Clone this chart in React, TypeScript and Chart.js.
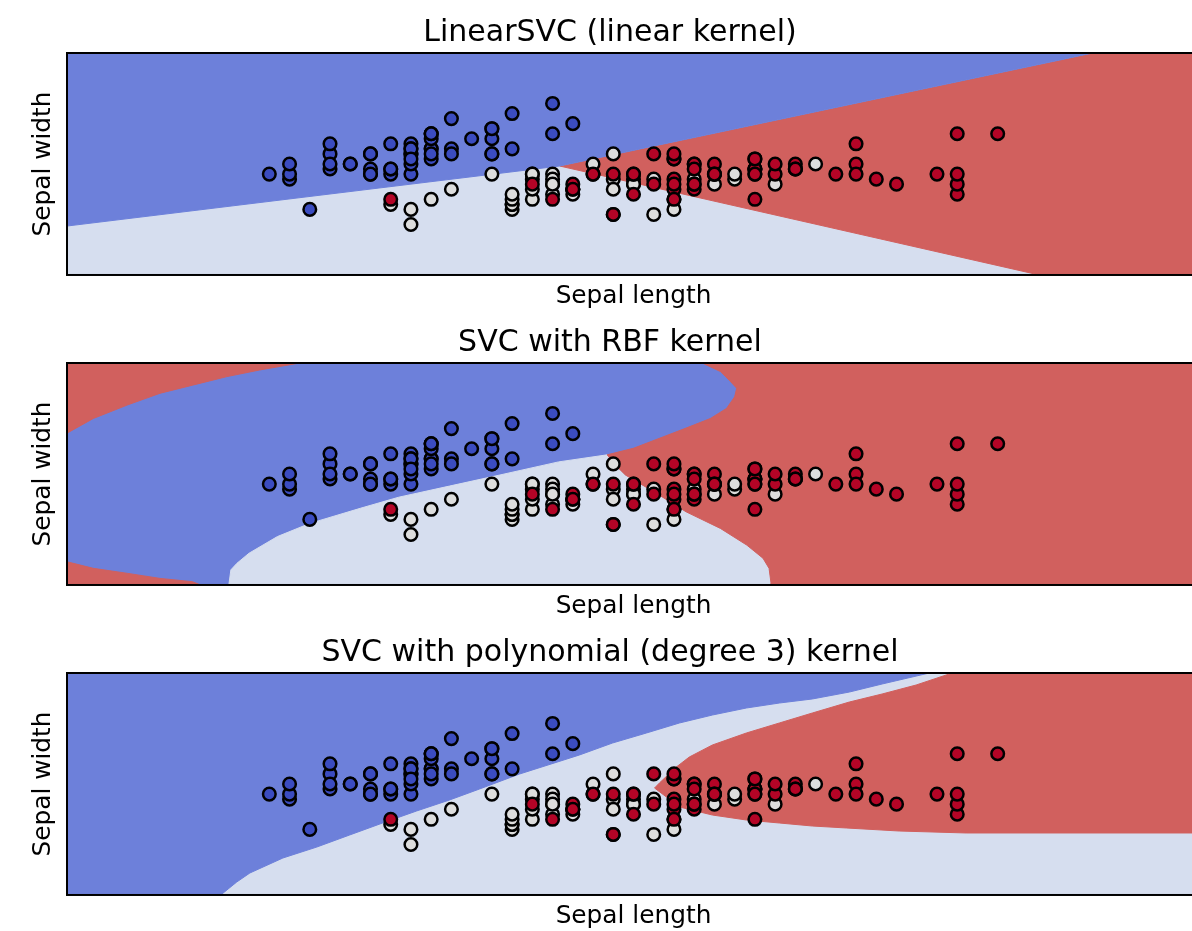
import React, { useEffect, useRef } from "react";
import { Chart, registerables } from "chart.js";

Chart.register(...registerables);

type Pt = [number, number];

const FONT = '"DejaVu Sans", "Liberation Sans", sans-serif';

const panelTitles = [
  "LinearSVC (linear kernel)",
  "SVC with RBF kernel",
  "SVC with polynomial (degree 3) kernel",
];
const xAxisLabel = "Sepal length";
const yAxisLabel = "Sepal width";
const xLimits = [3.3, 8.9];
const yLimits = [1.0, 5.4];

// Iris data: sepal length / sepal width per class
const setosaLength = [5.1, 4.9, 4.7, 4.6, 5.0, 5.4, 4.6, 5.0, 4.4, 4.9, 5.4, 4.8, 4.8, 4.3, 5.8, 5.7, 5.4, 5.1, 5.7, 5.1, 5.4, 5.1, 4.6, 5.1, 4.8, 5.0, 5.0, 5.2, 5.2, 4.7, 4.8, 5.4, 5.2, 5.5, 4.9, 5.0, 5.5, 4.9, 4.4, 5.1, 5.0, 4.5, 4.4, 5.0, 5.1, 4.8, 5.1, 4.6, 5.3, 5.0];
const setosaWidth = [3.5, 3.0, 3.2, 3.1, 3.6, 3.9, 3.4, 3.4, 2.9, 3.1, 3.7, 3.4, 3.0, 3.0, 4.0, 4.4, 3.9, 3.5, 3.8, 3.8, 3.4, 3.7, 3.6, 3.3, 3.4, 3.0, 3.4, 3.5, 3.4, 3.2, 3.1, 3.4, 4.1, 4.2, 3.1, 3.2, 3.5, 3.6, 3.0, 3.4, 3.5, 2.3, 3.2, 3.5, 3.8, 3.0, 3.8, 3.2, 3.7, 3.3];
const versicolorLength = [7.0, 6.4, 6.9, 5.5, 6.5, 5.7, 6.3, 4.9, 6.6, 5.2, 5.0, 5.9, 6.0, 6.1, 5.6, 6.7, 5.6, 5.8, 6.2, 5.6, 5.9, 6.1, 6.3, 6.1, 6.4, 6.6, 6.8, 6.7, 6.0, 5.7, 5.5, 5.5, 5.8, 6.0, 5.4, 6.0, 6.7, 6.3, 5.6, 5.5, 5.5, 6.1, 5.8, 5.0, 5.6, 5.7, 5.7, 6.2, 5.1, 5.7];
const versicolorWidth = [3.2, 3.2, 3.1, 2.3, 2.8, 2.8, 3.3, 2.4, 2.9, 2.7, 2.0, 3.0, 2.2, 2.9, 2.9, 3.1, 3.0, 2.7, 2.2, 2.5, 3.2, 2.8, 2.5, 2.8, 2.9, 3.0, 2.8, 3.0, 2.9, 2.6, 2.4, 2.4, 2.7, 2.7, 3.0, 3.4, 3.1, 2.3, 3.0, 2.5, 2.6, 3.0, 2.6, 2.3, 2.7, 3.0, 2.9, 2.9, 2.5, 2.8];
const virginicaLength = [6.3, 5.8, 7.1, 6.3, 6.5, 7.6, 4.9, 7.3, 6.7, 7.2, 6.5, 6.4, 6.8, 5.7, 5.8, 6.4, 6.5, 7.7, 7.7, 6.0, 6.9, 5.6, 7.7, 6.3, 6.7, 7.2, 6.2, 6.1, 6.4, 7.2, 7.4, 7.9, 6.4, 6.3, 6.1, 7.7, 6.3, 6.4, 6.0, 6.9, 6.7, 6.9, 5.8, 6.8, 6.7, 6.7, 6.3, 6.5, 6.2, 5.9];
const virginicaWidth = [3.3, 2.7, 3.0, 2.9, 3.0, 3.0, 2.5, 2.9, 2.5, 3.6, 3.2, 2.7, 3.0, 2.5, 2.8, 3.2, 3.0, 3.8, 2.6, 2.2, 3.2, 2.8, 2.8, 2.7, 3.3, 3.2, 2.8, 3.0, 2.8, 3.0, 2.8, 3.8, 2.8, 2.8, 2.6, 3.0, 3.4, 3.1, 3.0, 3.1, 3.1, 3.1, 2.7, 3.2, 3.3, 3.0, 2.5, 3.0, 3.4, 3.0];

// Decision-region outlines (sepal length, sepal width)
// LinearSVC
const linearBlueRegion: Pt[] = [[3.3, 5.4], [8.37, 5.4], [5.735, 3.16], [3.3, 1.97]];
const linearRedRegion: Pt[] = [[8.37, 5.4], [8.9, 5.4], [8.9, 1.0], [8.105, 1.0], [5.735, 3.16]];

// RBF kernel
const rbfTopLeftEdge: Pt[] = [[4.45, 5.4], [4.25, 5.26], [4.09, 5.13], [3.92, 4.96], [3.76, 4.8], [3.6, 4.57], [3.43, 4.3], [3.3, 4.01]];
const rbfBlueRedEdge: Pt[] = [[6.44, 5.4], [6.53, 5.23], [6.58, 5.03], [6.61, 4.9], [6.6, 4.73], [6.56, 4.5], [6.48, 4.3], [6.36, 4.11], [6.23, 3.91], [6.1, 3.71], [5.97, 3.58]];
const rbfLightRedEdge: Pt[] = [[5.97, 3.58], [6.01, 3.38], [6.06, 3.18], [6.2, 2.85], [6.36, 2.45], [6.53, 2.12], [6.66, 1.79], [6.74, 1.53], [6.77, 1.33], [6.78, 1.03], [6.78, 1.0]];
const rbfBlueLightEdge: Pt[] = [[4.1, 1.0], [4.11, 1.3], [4.14, 1.43], [4.2, 1.63], [4.34, 1.96], [4.5, 2.22], [4.75, 2.52], [4.94, 2.74], [5.19, 2.96], [5.44, 3.18], [5.73, 3.44], [5.97, 3.58]];
const rbfBottomLeftEdge: Pt[] = [[3.3, 1.46], [3.43, 1.33], [3.6, 1.23], [3.76, 1.13], [3.92, 1.065], [3.96, 1.0]];

// Polynomial kernel
const polyBlueLightEdge: Pt[] = [[4.06, 1.0], [4.139, 1.257], [4.204, 1.436], [4.367, 1.733], [4.535, 1.951], [4.697, 2.189], [4.86, 2.427], [5.028, 2.665], [5.191, 2.883], [5.339, 3.101], [5.537, 3.398], [5.833, 3.775], [5.996, 4.012], [6.164, 4.211], [6.327, 4.409], [6.49, 4.567], [6.658, 4.706], [6.821, 4.805], [6.984, 4.885], [7.167, 5.023], [7.329, 5.182], [7.562, 5.4]];
const polyRedUpperEdge: Pt[] = [[7.675, 5.4], [7.497, 5.162], [7.329, 4.984], [7.167, 4.825], [6.984, 4.607], [6.821, 4.409], [6.658, 4.211], [6.49, 3.973], [6.376, 3.735], [6.312, 3.537], [6.228, 3.219], [6.204, 3.12]];
const polyRedLowerEdge: Pt[] = [[6.263, 2.942], [6.327, 2.744], [6.49, 2.585], [6.658, 2.486], [6.821, 2.427], [6.984, 2.367], [7.152, 2.328], [7.413, 2.268], [7.744, 2.229], [8.9, 2.229]];

const REGION_BLUE = "#6d80da";
const REGION_LIGHT = "#d6deef";
const REGION_RED = "#d1605e";
const POINT_BLUE = "#3b4cc0";
const POINT_LIGHT = "#dddddd";
const POINT_RED = "#b40426";

const [x0, x1] = xLimits;
const [y0, y1] = yLimits;
const fullRect: Pt[] = [[x0, y0], [x0, y1], [x1, y1], [x1, y0]];

function regionSet(points: Pt[], color: string, order: number) {
  return {
    type: "line",
    data: points.map(([x, y]) => ({ x, y })),
    backgroundColor: color,
    borderColor: color,
    borderWidth: 1,
    pointRadius: 0,
    pointHoverRadius: 0,
    fill: "shape",
    tension: 0,
    order,
  };
}

function pointSet(xs: number[], ys: number[], color: string, order: number) {
  return {
    type: "line",
    data: xs.map((x, i) => ({ x, y: ys[i] })),
    showLine: false,
    fill: false,
    backgroundColor: color,
    borderColor: "#000",
    borderWidth: 2.5,
    radius: 6.3,
    pointRadius: 6.3,
    pointHoverRadius: 6.3,
    pointBackgroundColor: color,
    pointBorderColor: "#000",
    pointBorderWidth: 2.5,
    order,
  };
}

const scatterSets = () => [
  pointSet(virginicaLength, virginicaWidth, POINT_RED, 0),
  pointSet(versicolorLength, versicolorWidth, POINT_LIGHT, 1),
  pointSet(setosaLength, setosaWidth, POINT_BLUE, 2),
];

const panelRegions = [
  [
    regionSet(fullRect, REGION_LIGHT, 30),
    regionSet(linearBlueRegion, REGION_BLUE, 20),
    regionSet(linearRedRegion, REGION_RED, 21),
  ],
  [
    regionSet(fullRect, REGION_BLUE, 30),
    regionSet([[x0, y1], ...rbfTopLeftEdge], REGION_RED, 20),
    regionSet([...rbfBlueRedEdge, ...rbfLightRedEdge, [x1, y0], [x1, y1]], REGION_RED, 21),
    regionSet([...rbfBlueLightEdge, ...rbfLightRedEdge], REGION_LIGHT, 22),
    regionSet([[x0, y0], ...rbfBottomLeftEdge], REGION_RED, 23),
  ],
  [
    regionSet(fullRect, REGION_LIGHT, 30),
    regionSet([[x0, y0], ...polyBlueLightEdge, [x0, y1]], REGION_BLUE, 20),
    regionSet([...polyRedUpperEdge, ...polyRedLowerEdge, [x1, y1]], REGION_RED, 21),
  ],
];

const spinesPlugin = {
  id: "spines",
  afterDatasetsDraw(chart: any) {
    const { ctx, chartArea } = chart;
    const { left, top, right, bottom } = chartArea;
    ctx.save();
    ctx.strokeStyle = "#000";
    ctx.lineWidth = 2;
    ctx.strokeRect(left, top, right - left, bottom - top);
    ctx.restore();
  },
};

function makeConfig(idx: number): any {
  return {
    type: "line",
    data: { datasets: [...scatterSets(), ...panelRegions[idx]] },
    options: {
      responsive: false,
      animation: false,
      devicePixelRatio: 1,
      events: [],
      layout: { padding: { left: 20, right: 10, top: 0, bottom: 0 } },
      plugins: {
        legend: { display: false },
        tooltip: { enabled: false },
        title: {
          display: true,
          text: panelTitles[idx],
          color: "#000",
          font: { family: FONT, size: 30, weight: "normal", lineHeight: 1.2 },
          padding: { top: 15, bottom: 2 },
        },
      },
      scales: {
        x: {
          type: "linear",
          min: x0,
          max: x1,
          bounds: "data",
          ticks: { display: false },
          grid: { display: false, drawTicks: false },
          border: { display: false },
          title: {
            display: true,
            text: xAxisLabel,
            color: "#000",
            font: { family: FONT, size: 24.8, weight: "normal", lineHeight: 0.9 },
            padding: { top: 10.8, bottom: 1.9 },
          },
        },
        y: {
          type: "linear",
          min: y0,
          max: y1,
          bounds: "data",
          ticks: { display: false },
          grid: { display: false, drawTicks: false },
          border: { display: false },
          title: {
            display: true,
            text: yAxisLabel,
            color: "#000",
            font: { family: FONT, size: 24.8, weight: "normal", lineHeight: 1.0 },
            padding: { top: 11.6, bottom: 10.6 },
          },
        },
      },
    },
    plugins: [spinesPlugin],
  };
}

const CANVAS_W = 1210;
const CANVAS_H = 310;

export default function App() {
  const refs = [useRef<HTMLCanvasElement>(null), useRef<HTMLCanvasElement>(null), useRef<HTMLCanvasElement>(null)];

  useEffect(() => {
    const charts: Chart[] = [];
    refs.forEach((r, i) => {
      if (r.current) charts.push(new Chart(r.current, makeConfig(i)));
    });
    return () => charts.forEach((c) => c.destroy());
  }, []);

  return (
    <div
      style={{
        position: "absolute",
        left: 0,
        top: 0,
        width: 1192,
        height: 931,
        overflow: "hidden",
        background: "#fff",
      }}
    >
      {refs.map((r, i) => (
        <canvas
          key={i}
          ref={r}
          width={CANVAS_W}
          height={CANVAS_H}
          style={{ position: "absolute", left: 0, top: i * CANVAS_H, width: CANVAS_W, height: CANVAS_H, display: "block" }}
        />
      ))}
    </div>
  );
}
